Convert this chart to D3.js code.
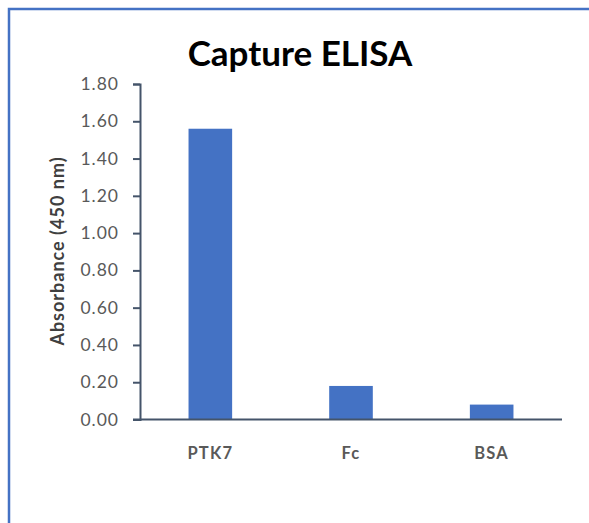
<!DOCTYPE html>
<html>
<head>
<meta charset="utf-8">
<script src="https://cdn.jsdelivr.net/npm/d3@7"></script>
<style>
  body { margin: 0; background: #fff; }
  svg { display: block; }
  text { font-family: Lato, "Open Sans", sans-serif; }
</style>
</head>
<body>
<svg id="chart"></svg>
<script>
var categories = ["PTK7", "Fc", "BSA"];
var absorbance = [1.56, 0.18, 0.08];
var yTicks = [0, 0.2, 0.4, 0.6, 0.8, 1.0, 1.2, 1.4, 1.6, 1.8];
var title = "Capture ELISA";
var yLabel = "Absorbance (450 nm)";

var width = 589,
    height = 523;

var margin = {top: 84, right: 27, bottom: 103.5, left: 140};

var svg = d3.select("#chart")
    .attr("width", width)
    .attr("height", height);

// frame (only top and left edge show in the picture)
svg.append("path")
    .attr("d", "M9," + height + "V9H" + width)
    .attr("fill", "none")
    .attr("stroke", "#4472C4")
    .attr("stroke-width", 2.5);

var x = d3.scaleBand()
    .domain(categories)
    .range([margin.left, width - margin.right])
    .paddingInner(0.69)
    .paddingOuter(0.345);

var y = d3.scaleLinear()
    .domain([0, 1.8])
    .range([height - margin.bottom, margin.top]);

var g = svg.append("g");

g.selectAll("rect.bar")
    .data(categories)
    .enter().append("rect")
    .attr("class", "bar")
    .attr("x", function(d) { return x(d); })
    .attr("width", x.bandwidth())
    .attr("y", function(d, i) { return y(absorbance[i]); })
    .attr("height", function(d, i) { return y(0) - y(absorbance[i]); })
    .attr("fill", "#4472C4");

// y axis
var yAxis = g.append("g")
    .attr("transform", "translate(" + margin.left + ",0)")
    .call(d3.axisLeft(y).tickValues(yTicks).tickFormat(d3.format(".2f")).tickSize(7).tickPadding(14).tickSizeOuter(7));
yAxis.select(".domain").attr("stroke", "#44546A").attr("stroke-width", 2);
yAxis.selectAll(".tick line").attr("stroke", "#44546A").attr("stroke-width", 2);
yAxis.selectAll(".tick text")
    .attr("fill", "#595959")
    .style("font-size", "17.5px")
    .style("letter-spacing", "1px");

// x axis
var xAxis = g.append("g")
    .attr("transform", "translate(0," + y(0) + ")")
    .call(d3.axisBottom(x).tickSize(0).tickPadding(28));
xAxis.select(".domain").remove();
xAxis.append("line")
    .attr("x1", margin.left - 7)
    .attr("x2", width - margin.right)
    .attr("stroke", "#44546A")
    .attr("stroke-width", 2);
xAxis.selectAll(".tick text")
    .attr("fill", "#595959")
    .style("font-size", "16.5px")
    .style("font-weight", "bold")
    .style("letter-spacing", "1.2px");

svg.append("text")
    .attr("x", 300)
    .attr("y", 66)
    .attr("text-anchor", "middle")
    .style("font-size", "35px")
    .style("font-weight", "bold")
    .attr("fill", "#000")
    .text(title);

svg.append("text")
    .attr("transform", "translate(64," + 251 + ") rotate(-90)")
    .attr("text-anchor", "middle")
    .style("font-size", "18px")
    .style("font-weight", "bold")
    .style("letter-spacing", "1px")
    .attr("fill", "#404040")
    .text(yLabel);
</script>
</body>
</html>
